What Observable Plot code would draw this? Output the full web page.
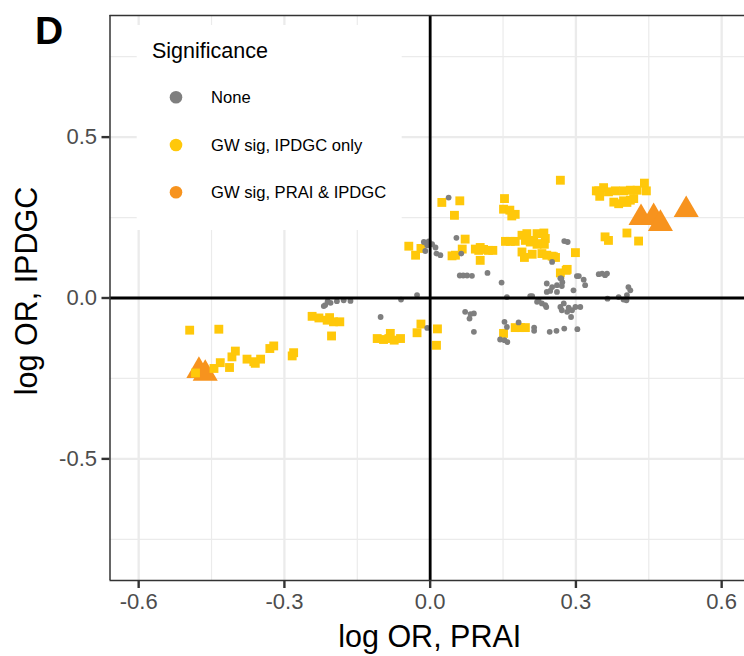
<!DOCTYPE html>
<html><head><meta charset="utf-8">
<script src="https://cdn.jsdelivr.net/npm/d3@7"></script>
<script src="https://cdn.jsdelivr.net/npm/@observablehq/plot@0.6"></script>
<style>html,body{margin:0;padding:0;background:#fff;} svg{display:block;}</style>
</head><body><div id="chart"></div>
<script>
// Significance groups
const groups = ["None", "GW sig, IPDGC only", "GW sig, PRAI & IPDGC"];
const groupColors = ["#7f7f7f", "#FFC80A", "#F7931E"];

// None (grey dots): log OR PRAI, log OR IPDGC
const noneX = [0.038,-0.013,-0.003,0.004,-0.006,-0.010,0.011,0.013,0.021,0.054,0.064,0.061,0.068,0.076,0.086,0.118,0.147,0.276,0.283,0.251,0.270,0.240,0.251,0.261,0.271,0.240,0.247,0.261,0.302,0.316,0.319,0.295,0.347,0.354,0.360,0.408,0.405,0.404,0.365,0.388,0.398,0.412,-0.027,-0.060,-0.102,-0.006,-0.216,-0.219,-0.205,-0.192,-0.178,-0.164,-0.211,0.158,0.206,0.210,0.220,0.223,0.230,0.237,0.239,0.268,0.275,0.271,0.282,0.290,0.292,0.299,0.309,0.285,0.072,0.083,0.090,0.081,0.090,0.153,0.158,0.144,0.153,0.159,0.182,0.214,0.214,0.246,0.260,0.276,0.303,0.268,0.306,0.272,0.364];
const noneY = [0.312,0.174,0.176,0.167,0.164,0.146,0.157,0.138,0.133,0.187,0.138,0.070,0.070,0.070,0.069,0.078,0.048,0.177,0.174,0.112,0.061,0.045,0.034,0.040,0.037,0.019,0.022,0.019,0.068,0.057,0.040,0.024,0.074,0.076,0.071,0.034,0.009,-0.007,-0.002,0.003,-0.005,0.024,0.009,-0.005,-0.059,-0.093,-0.022,-0.025,-0.015,-0.010,-0.007,-0.009,-0.010,0.003,0.006,0.006,-0.012,-0.007,-0.017,-0.022,-0.028,-0.028,-0.017,-0.038,-0.043,-0.059,-0.038,-0.028,-0.028,-0.030,-0.043,-0.050,-0.048,-0.064,-0.105,-0.074,-0.090,-0.129,-0.131,-0.137,-0.076,-0.092,-0.102,-0.105,-0.102,-0.095,-0.097,0.061,0.068,0.049,0.076];

// GW sig, IPDGC only (yellow squares)
const ipdgcX = [-0.495,-0.435,-0.483,-0.445,-0.432,-0.413,-0.408,-0.401,-0.377,-0.363,-0.349,-0.360,-0.330,-0.322,-0.284,-0.281,-0.243,-0.229,-0.207,-0.199,-0.186,-0.203,-0.212,-0.109,-0.096,-0.082,-0.074,-0.061,-0.085,-0.027,-0.019,0.015,0.013,0.151,0.175,0.186,0.196,-0.044,-0.030,-0.019,0.024,0.061,0.050,0.072,0.066,0.045,0.052,0.103,0.100,0.110,0.120,0.129,0.093,0.103,0.153,0.151,0.164,0.175,0.168,0.155,0.165,0.175,0.189,0.196,0.213,0.220,0.234,0.237,0.235,0.189,0.194,0.210,0.230,0.240,0.251,0.258,0.268,0.299,0.268,0.280,0.342,0.347,0.357,0.349,0.367,0.381,0.398,0.412,0.426,0.441,0.445,0.378,0.388,0.398,0.412,0.419,0.405,0.360,0.367,0.405,0.429,0.206,0.230,0.254,0.282,0.220,0.199];
const ipdgcY = [-0.100,-0.097,-0.233,-0.219,-0.201,-0.216,-0.183,-0.165,-0.190,-0.198,-0.190,-0.203,-0.157,-0.149,-0.180,-0.170,-0.057,-0.062,-0.061,-0.074,-0.074,-0.118,-0.069,-0.126,-0.129,-0.110,-0.131,-0.126,-0.126,-0.108,-0.081,-0.096,-0.147,-0.110,-0.092,-0.092,-0.092,0.161,0.133,0.154,0.297,0.302,0.257,0.183,0.152,0.131,0.133,0.157,0.148,0.151,0.148,0.148,0.152,0.117,0.309,0.276,0.273,0.260,0.255,0.176,0.176,0.176,0.195,0.179,0.179,0.200,0.202,0.185,0.167,0.143,0.126,0.136,0.138,0.133,0.130,0.126,0.366,0.141,0.078,0.086,0.333,0.333,0.343,0.316,0.330,0.333,0.333,0.335,0.335,0.357,0.333,0.298,0.293,0.302,0.304,0.309,0.297,0.190,0.179,0.202,0.177,0.174,0.169,0.128,0.089,0.167,0.200];

// GW sig, PRAI & IPDGC (orange triangles)
const bothX = [-0.476,-0.463,0.434,0.460,0.474,0.527];
const bothY = [-0.226,-0.235,0.249,0.252,0.231,0.274];

// axes
const xTicks = [-0.6,-0.3,0.0,0.3,0.6];
const yTicks = [-0.5,0.0,0.5];
const xMinor = [-0.45,-0.15,0.15,0.45];
const yMinor = [-0.75,-0.25,0.25,0.75];
const xDomain = [-0.659, 0.647];
const yDomain = [-0.878, 0.878];

const toRows = (xs, ys) => xs.map((x, i) => ({x, y: ys[i]}));
const none = toRows(noneX, noneY);
const ipdgc = toRows(ipdgcX, ipdgcY);
const both = toRows(bothX, bothY);

const W = 744, H = 656;
const mL = 109.5, mT = 15, mB = 76, mR = 0;
const grid = "#ebebeb";

const chart = Plot.plot({
  width: W, height: H,
  marginLeft: mL, marginRight: mR, marginTop: mT, marginBottom: mB,
  style: {fontFamily: "'Liberation Sans', Arial, sans-serif", background: "#fff", overflow: "visible"},
  x: {domain: xDomain},
  y: {domain: yDomain},
  marks: [
    Plot.ruleX(xMinor, {stroke: grid, strokeWidth: 1.2}),
    Plot.ruleY(yMinor, {stroke: grid, strokeWidth: 1.2}),
    Plot.ruleX(xTicks, {stroke: grid, strokeWidth: 2.3}),
    Plot.ruleY(yTicks, {stroke: grid, strokeWidth: 2.3}),
    Plot.dot(both, {x: "x", y: "y", symbol: "triangle", r: 9.3, fill: groupColors[2], stroke: "none"}),
    Plot.dot(ipdgc, {x: "x", y: "y", symbol: "square", r: 5, fill: groupColors[1], stroke: "none"}),
    Plot.dot(none, {x: "x", y: "y", r: 2.9, fill: groupColors[0], stroke: "none"}),
    Plot.ruleX([0], {stroke: "#000", strokeWidth: 2.8}),
    Plot.ruleY([0], {stroke: "#000", strokeWidth: 2.8}),
    Plot.ruleX([xDomain[0]], {stroke: "#333", strokeWidth: 1.5}),
    Plot.ruleY([yDomain[0], yDomain[1]], {stroke: "#333", strokeWidth: 1.5}),
    Plot.axisX({ticks: xTicks, tickFormat: d => d.toFixed(1), tickSize: 8, tickPadding: 5, fontSize: 22, stroke: "#333", strokeWidth: 2.4, label: null}),
    Plot.axisY({ticks: yTicks, tickFormat: d => d.toFixed(1), tickSize: 8, tickPadding: 5, fontSize: 22, stroke: "#333", strokeWidth: 2.4, label: null})
  ]
});

const svg = d3.select(chart);
svg.selectAll('g[aria-label="x-axis tick label"] text, g[aria-label="y-axis tick label"] text').attr("fill", "#4d4d4d");
svg.selectAll('g[aria-label="x-axis tick label"], g[aria-label="y-axis tick label"]').attr("fill", "#4d4d4d");

const ff = "'Liberation Sans', Arial, sans-serif";
// Panel tag
svg.append("text").attr("x", 35).attr("y", 44).attr("text-anchor", "start").attr("font-family", ff).attr("font-weight", "bold").attr("font-size", 39).attr("fill", "#000").text("D");
// Axis titles
svg.append("text").attr("x", (mL + 750) / 2).attr("y", 647).attr("text-anchor", "middle").attr("font-family", ff).attr("font-size", 30.5).attr("fill", "#000").text("log OR, PRAI");
svg.append("text").attr("transform", "translate(37,291) rotate(-90)").attr("text-anchor", "middle").attr("font-family", ff).attr("font-size", 30.5).attr("fill", "#000").text("log OR, IPDGC");

// Legend (inside panel)
const lg = svg.append("g").attr("font-family", ff).attr("text-anchor", "start");
lg.append("rect").attr("x", 136.7).attr("y", 25).attr("width", 265).attr("height", 205).attr("fill", "#fff");
lg.append("text").attr("x", 152).attr("y", 58).attr("text-anchor", "start").attr("font-size", 21.5).attr("fill", "#000").text("Significance");
const keyY = [97.3, 145, 192.3];
groups.forEach((g, i) => {
  lg.append("circle").attr("cx", 176).attr("cy", keyY[i]).attr("r", 6.3).attr("fill", groupColors[i]);
  lg.append("text").attr("x", 211).attr("y", keyY[i]).attr("dy", "0.35em").attr("text-anchor", "start").attr("font-size", 16.6).attr("fill", "#000").text(g);
});

document.getElementById("chart").appendChild(chart);
</script>
</body></html>
